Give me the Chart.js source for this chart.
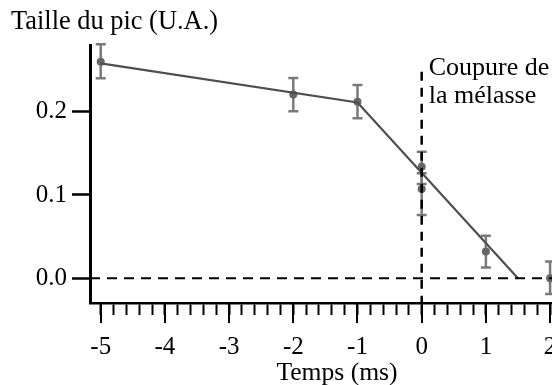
<!DOCTYPE html>
<html><head><meta charset="utf-8">
<script src="https://cdn.jsdelivr.net/npm/chart.js@4/dist/chart.umd.min.js"></script>
<style>html,body{margin:0;padding:0;background:#fff;overflow:hidden;}canvas{display:block;}</style>
</head><body><canvas id="c" width="552" height="385" style="width:552px;height:385px;"></canvas>
<script>
// ---- data ----
const times      = [-5, -2, -1, 0, 0, 1, 2];
const peakSize   = [0.260, 0.2205, 0.212, 0.134, 0.107, 0.032, 0.000];
const errPlus    = [0.021, 0.020, 0.020, 0.018, 0.019, 0.019, 0.020];
const errMinus   = [0.020, 0.020, 0.020, 0.021, 0.031, 0.019, 0.019];
const fitTimes   = [-5, -1, 1.5];
const fitValues  = [0.258, 0.211, 0.000];
const xMajorTicks = [-5, -4, -3, -2, -1, 0, 1, 2];
const xTickLabels = ['-5', '-4', '-3', '-2', '-1', '0', '1', '2'];
const xMinorStep  = 0.2;
const yTickValues = [0.0, 0.1, 0.2];
const yTickLabels = ['0.0', '0.1', '0.2'];
const cutoffTime = 0;
const cutoffTop  = 0.248;
const cutoffLabel = ['Coupure de', 'la mélasse'];
const yTitle = 'Taille du pic (U.A.)';
const xTitle = 'Temps (ms)';
const xRange = [-5.167, 2.03];
const yRange = [-0.0297, 0.280];

const FONT = "'Liberation Serif', 'Times New Roman', serif";

const overlay = {
  id: 'overlay',
  beforeDatasetsDraw(chart) {
    const {ctx, scales: {x, y}} = chart;
    ctx.save();
    ctx.strokeStyle = '#7a7a7a';
    ctx.lineWidth = 2.5;
    times.forEach((t, i) => {
      const px = x.getPixelForValue(t);
      const top = y.getPixelForValue(peakSize[i] + errPlus[i]);
      const bot = y.getPixelForValue(peakSize[i] - errMinus[i]);
      ctx.beginPath();
      ctx.moveTo(px, top); ctx.lineTo(px, bot);
      ctx.moveTo(px - 5, top); ctx.lineTo(px + 5, top);
      ctx.moveTo(px - 5, bot); ctx.lineTo(px + 5, bot);
      ctx.stroke();
    });
    ctx.restore();
  },
  afterDatasetsDraw(chart) {
    const {ctx, chartArea: ca, scales: {x, y}} = chart;
    ctx.save();
    // major tick extension
    ctx.strokeStyle = '#000';
    ctx.lineWidth = 2;
    xMajorTicks.forEach(v => {
      const px = Math.round(x.getPixelForValue(v));
      ctx.beginPath(); ctx.moveTo(px, ca.bottom); ctx.lineTo(px, ca.bottom + 20); ctx.stroke();
    });
    // zero dashed line
    const y0 = y.getPixelForValue(0);
    ctx.setLineDash([10, 7]);
    ctx.lineWidth = 2;
    ctx.beginPath(); ctx.moveTo(ca.left, y0); ctx.lineTo(ca.right, y0); ctx.stroke();
    // cutoff dashed line
    const xc = x.getPixelForValue(cutoffTime);
    const yt = y.getPixelForValue(cutoffTop);
    ctx.setLineDash([9, 7]);
    ctx.lineWidth = 2.5;
    ctx.beginPath(); ctx.moveTo(xc, yt); ctx.lineTo(xc, ca.bottom); ctx.stroke();
    ctx.setLineDash([]);
    // texts
    ctx.fillStyle = '#000';
    ctx.textBaseline = 'alphabetic';
    ctx.textAlign = 'left';
    ctx.font = '26px ' + FONT;
    ctx.fillText(cutoffLabel[0], xc + 7, yt + 3.5);
    ctx.fillText(cutoffLabel[1], xc + 7, yt + 31);
    ctx.font = '26.4px ' + FONT;
    ctx.fillText(yTitle, 11, 29.3);
    ctx.font = '25.6px ' + FONT;
    ctx.textAlign = 'center';
    ctx.fillText(xTitle, (ca.left + ca.right) / 2 + 16, 380);
    ctx.restore();
  }
};

new Chart(document.getElementById('c'), {
  type: 'scatter',
  data: {
    datasets: [
      {
        label: 'fit',
        data: fitTimes.map((t, i) => ({x: t, y: fitValues[i]})),
        showLine: true,
        borderColor: '#4e4e4e',
        borderWidth: 2.2,
        pointRadius: 0,
        fill: false,
        clip: false,
        order: 1
      },
      {
        label: 'mesures',
        data: times.map((t, i) => ({x: t, y: peakSize[i]})),
        showLine: false,
        pointRadius: 4,
        pointBackgroundColor: '#666666',
        pointBorderColor: '#666666',
        pointBorderWidth: 0,
        clip: false,
        order: 2
      }
    ]
  },
  options: {
    responsive: false,
    maintainAspectRatio: false,
    animation: false,
    devicePixelRatio: 1,
    layout: {autoPadding: false, padding: {top: 45, left: 0, right: 0, bottom: 0}},
    plugins: {legend: {display: false}, tooltip: {enabled: false}, title: {display: false}},
    scales: {
      x: {
        type: 'linear',
        min: xRange[0], max: xRange[1],
        afterBuildTicks(scale) {
          const ticks = [];
          const n0 = Math.round(xMajorTicks[0] / xMinorStep);
          const n1 = Math.round(xMajorTicks[xMajorTicks.length - 1] / xMinorStep);
          for (let n = n0; n <= n1; n++) ticks.push({value: n * xMinorStep});
          scale.ticks = ticks;
        },
        afterFit(scale) {
          scale.height = 82;
          scale.paddingLeft = 0; scale.paddingRight = 0;
        },
        ticks: {
          autoSkip: false, maxRotation: 0, minRotation: 0,
          padding: 17,
          color: '#000',
          font: {family: FONT, size: 25},
          callback(value) {
            const i = xMajorTicks.findIndex(v => Math.abs(v - value) < 1e-6);
            return i >= 0 ? xTickLabels[i] : '';
          }
        },
        grid: {drawOnChartArea: false, drawTicks: true, tickLength: 12, color: '#000', tickWidth: 2},
        border: {display: true, color: '#000', width: 2.5},
        title: {display: false}
      },
      y: {
        type: 'linear',
        min: yRange[0], max: yRange[1],
        afterBuildTicks(scale) {
          scale.ticks = yTickValues.map(v => ({value: v}));
        },
        afterFit(scale) {
          scale.width = 90;
          scale.paddingTop = 0; scale.paddingBottom = 0;
          scale.paddingLeft = 0; scale.paddingRight = 0;
        },
        ticks: {
          padding: 5,
          color: '#000',
          font: {family: FONT, size: 25},
          callback(value) {
            const i = yTickValues.findIndex(v => Math.abs(v - value) < 1e-6);
            return i >= 0 ? yTickLabels[i] : '';
          }
        },
        grid: {drawOnChartArea: false, drawTicks: true, tickLength: 18, color: '#000', tickWidth: 2.5},
        border: {display: true, color: '#000', width: 3},
        title: {display: false}
      }
    }
  },
  plugins: [overlay]
});
</script>
</body></html>
